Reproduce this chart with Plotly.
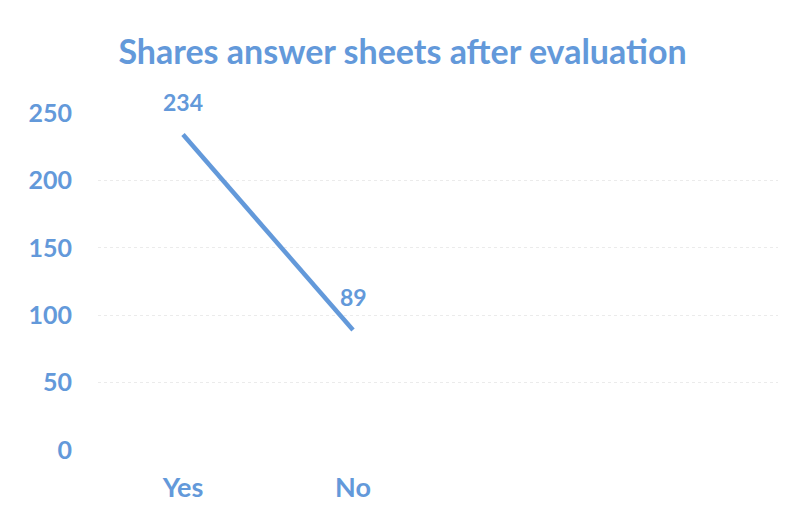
import plotly.graph_objects as go

categories = ["Yes", "No"]
values = [234, 89]
y_ticks = [0, 50, 100, 150, 200, 250]
title_text = "Shares answer sheets after evaluation"

blue = "#6399da"
font_family = "Lato, 'Open Sans', sans-serif"

fig = go.Figure()
fig.add_trace(go.Scatter(
    x=categories,
    y=values,
    mode="lines",
    line=dict(color=blue, width=4.5),
    cliponaxis=False,
    showlegend=False,
))

for c, v in zip(categories, values):
    fig.add_annotation(
        x=c, y=v, text=str(v), showarrow=False,
        xanchor="center", yanchor="middle", yshift=33,
        font=dict(family=font_family, size=23, color=blue, weight="bold"),
    )

fig.update_layout(
    width=789, height=520,
    paper_bgcolor="white", plot_bgcolor="white",
    margin=dict(l=90, r=19, t=105, b=78),
    title=dict(text=title_text, x=0.5, xanchor="center",
               y=1 - 44 / 520, yanchor="middle",
               font=dict(family=font_family, size=34, color=blue, weight="bold")),
    font=dict(family=font_family, color=blue),
)
fig.update_xaxes(
    type="category",
    range=[-0.5, 3.5],
    showgrid=False, zeroline=False, showline=False,
    ticks="", ticklabelstandoff=19,
    tickfont=dict(family=font_family, size=27, color=blue, weight="bold"),
)
fig.update_yaxes(
    range=[0, 250],
    tickvals=y_ticks,
    showgrid=True, gridcolor="#ebebeb", griddash="dot", gridwidth=1,
    zeroline=False, showline=False,
    ticks="", ticklabelstandoff=25,
    tickfont=dict(family=font_family, size=25, color=blue, weight="bold"),
)

fig.write_html("out.html")
